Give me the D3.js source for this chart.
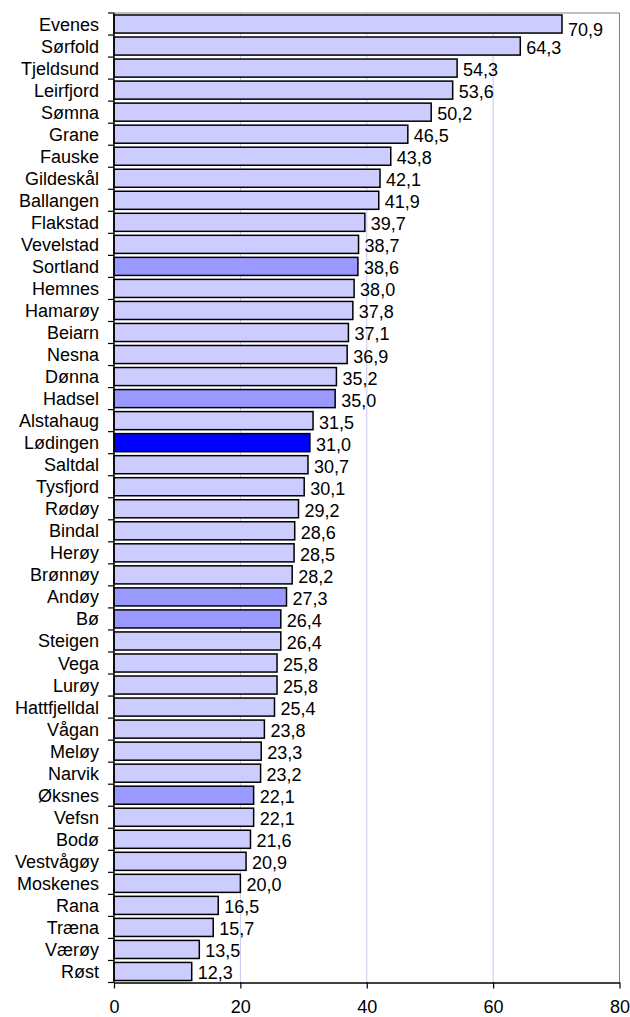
<!DOCTYPE html>
<html><head><meta charset="utf-8">
<script src="https://cdn.jsdelivr.net/npm/d3@7"></script>
<style>body{margin:0;background:#fff}svg{display:block}text{font-family:"Liberation Sans",Arial,sans-serif}</style>
</head><body>
<script>
const categories = ["Evenes","Sørfold","Tjeldsund","Leirfjord","Sømna","Grane","Fauske","Gildeskål","Ballangen","Flakstad","Vevelstad","Sortland","Hemnes","Hamarøy","Beiarn","Nesna","Dønna","Hadsel","Alstahaug","Lødingen","Saltdal","Tysfjord","Rødøy","Bindal","Herøy","Brønnøy","Andøy","Bø","Steigen","Vega","Lurøy","Hattfjelldal","Vågan","Meløy","Narvik","Øksnes","Vefsn","Bodø","Vestvågøy","Moskenes","Rana","Træna","Værøy","Røst"];
const values = [70.9,64.3,54.3,53.6,50.2,46.5,43.8,42.1,41.9,39.7,38.7,38.6,38.0,37.8,37.1,36.9,35.2,35.0,31.5,31.0,30.7,30.1,29.2,28.6,28.5,28.2,27.3,26.4,26.4,25.8,25.8,25.4,23.8,23.3,23.2,22.1,22.1,21.6,20.9,20.0,16.5,15.7,13.5,12.3];
const mediumGroup = ["Sortland","Hadsel","Andøy","Bø","Øksnes"];
const darkGroup = ["Lødingen"];
const xTicks = [0,20,40,60,80];

(function(){
const W=630,H=1017;
const mL=114,mR=619.5,mT=13,mB=982.5;
const FS=18;
const svg=d3.select("body").append("svg").attr("width",W).attr("height",H);
const x=d3.scaleLinear().domain([0,80]).range([mL,mR]);
const y=d3.scaleBand().domain(categories).range([mT,mB]).paddingInner(0.18).paddingOuter(0.09);
const color=c=>darkGroup.includes(c)?"#0000ff":(mediumGroup.includes(c)?"#9999ff":"#ccccff");

svg.append("g").selectAll("line").data(xTicks.filter(t=>t>0&&t<80)).join("line")
  .attr("x1",d=>x(d)).attr("x2",d=>x(d)).attr("y1",mT).attr("y2",mB)
  .attr("stroke","#c8c8f4").attr("stroke-width",1);
svg.append("path").attr("d",`M${mL},${mT}H${mR}V${mB}`).attr("fill","none").attr("stroke","#808080").attr("stroke-width",1);

svg.append("g").selectAll("rect").data(categories).join("rect")
  .attr("x",x(0)).attr("y",d=>y(d)).attr("width",(d,i)=>x(values[i])-x(0)).attr("height",y.bandwidth())
  .attr("fill",d=>color(d)).attr("stroke","#000").attr("stroke-width",1.5);

const yb=d3.scaleBand().domain(categories).range([mT,mB]);

svg.append("g").selectAll("text").data(categories).join("text")
  .attr("x",(d,i)=>x(values[i])+6).attr("y",(d,i)=>yb(d)+yb.bandwidth()/2+8+(i===0?4:0))
  .attr("font-size",FS).attr("fill","#000")
  .text((d,i)=>d3.format(".1f")(values[i]).replace(".",","));

const yAxis=svg.append("g");
yAxis.append("line").attr("x1",mL).attr("x2",mL).attr("y1",mT).attr("y2",mB).attr("stroke","#000").attr("stroke-width",1.5);
yAxis.selectAll("line.t").data(categories.concat(["__end"])).join("line").attr("class","t")
  .attr("x1",mL-6).attr("x2",mL).attr("y1",(d,i)=>mT+i*yb.step()).attr("y2",(d,i)=>mT+i*yb.step())
  .attr("stroke","#000").attr("stroke-width",1.2);
yAxis.selectAll("text").data(categories).join("text")
  .attr("x",mL-15).attr("y",d=>yb(d)+yb.bandwidth()/2+6.5).attr("text-anchor","end")
  .attr("font-size",FS).attr("fill","#000").text(d=>d);

const xAxis=svg.append("g").attr("transform",`translate(0,${mB})`)
  .call(d3.axisBottom(x).tickValues(xTicks).tickSize(6).tickSizeOuter(0).tickPadding(12));
xAxis.select(".domain").attr("stroke","#000").attr("stroke-width",1.5);
xAxis.selectAll(".tick line").attr("stroke","#000").attr("stroke-width",1.2);
xAxis.selectAll("text").attr("font-size",FS).attr("font-family","Liberation Sans, Arial, sans-serif").attr("fill","#000");
})();
</script>
</body></html>
